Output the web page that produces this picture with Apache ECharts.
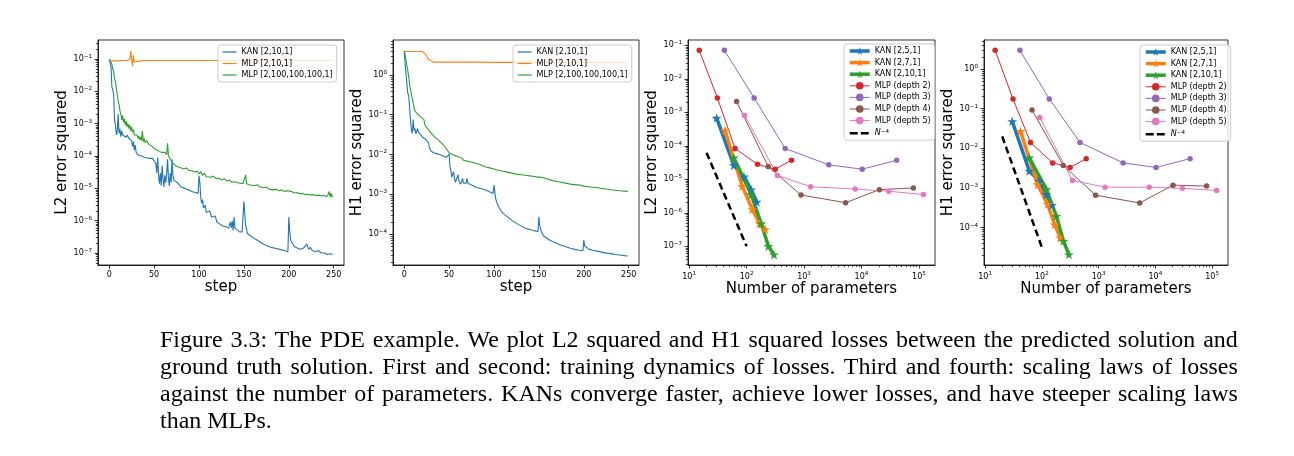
<!DOCTYPE html>
<html><head><meta charset="utf-8">
<script src="https://cdn.jsdelivr.net/npm/echarts@6/dist/echarts.min.js"></script>
<style>
html,body{margin:0;padding:0;background:#fff;}
#chart{position:absolute;left:0;top:0;width:1294px;height:456px;}
#caption{position:absolute;left:160px;top:326px;width:1012px;font-family:'Liberation Serif','Times New Roman',serif;font-size:22.5px;line-height:27px;color:#000;transform:scaleX(1.065);transform-origin:0 0;}
#caption .j{text-align:justify;text-align-last:justify;white-space:nowrap;}
#caption .l{text-align:left;}
</style></head><body>
<div id="chart"></div>
<div id="caption">
<div class="j">Figure 3.3: The PDE example. We plot L2 squared and H1 squared losses between the predicted solution and</div>
<div class="j">ground truth solution. First and second: training dynamics of losses. Third and fourth: scaling laws of losses</div>
<div class="j">against the number of parameters. KANs converge faster, achieve lower losses, and have steeper scaling laws</div>
<div class="l">than MLPs.</div>
</div>
<script>
// ---------- training dynamics (step, loss) ----------
const l2KanTrain = [[0,0.1],[1,0.09],[2,0.06],[3,0.014],[4,0.011],[5,0.008],[6,1.2e-3],[7,9e-4],[8,4.5e-4],[9,6e-4],[10,2e-3],[11,5e-4],[12,7e-4],[13,4e-4],[14,6e-4],[15,4.5e-4],[17,5e-4],[19,3.8e-4],[20,4.5e-4],[22,3.5e-4],[24,4e-4],[25,3e-4],[26,2e-4],[27,2.8e-4],[28,1.5e-4],[29,2.2e-4],[30,1.3e-4],[32,1.1e-4],[34,1.2e-4],[36,1e-4],[38,1.05e-4],[40,9e-5],[42,9.5e-5],[44,8.5e-5],[46,8e-5],[48,8.5e-5],[50,7.5e-5],[52,6e-5],[53,3e-5],[54,9e-5],[55,2.5e-5],[56,1.4e-5],[57,3e-5],[58,1.2e-5],[59,5e-5],[60,2e-5],[61,1.1e-5],[62,2.5e-5],[63,1.5e-5],[64,3e-5],[65,8e-5],[66,2e-5],[67,1.2e-5],[68,3e-5],[69,1.5e-5],[70,8e-5],[71,2.5e-5],[72,1.8e-5],[74,1.6e-5],[76,1.5e-5],[78,1.3e-5],[80,1.1e-5],[84,1e-5],[88,9e-6],[92,8e-6],[96,7.5e-6],[99,7e-6],[100,2.5e-5],[101,1.5e-5],[102,5e-6],[103,3.5e-6],[104,4.5e-6],[105,2.5e-6],[107,3e-6],[108,1.8e-6],[110,1.6e-6],[112,2e-6],[114,1.3e-6],[116,1.2e-6],[118,1.4e-6],[120,9e-7],[123,8e-7],[126,7e-7],[130,6.5e-7],[133,6e-7],[135,9e-7],[136,6e-7],[137,1e-6],[138,5e-7],[139,1.3e-6],[140,6e-7],[142,5.5e-7],[145,4.5e-7],[148,4.5e-7],[150,4e-6],[151,1.5e-6],[152,7e-7],[154,4e-7],[157,3.5e-7],[160,3e-7],[165,2.5e-7],[170,2e-7],[175,1.7e-7],[180,1.5e-7],[185,1.4e-7],[190,1.3e-7],[195,1.2e-7],[199,1.1e-7],[200,1.3e-6],[201,5e-7],[202,2.5e-7],[204,2e-7],[206,1.6e-7],[208,1.5e-7],[210,1.4e-7],[213,1.3e-7],[216,1.4e-7],[218,1.6e-7],[220,1.9e-7],[222,1.3e-7],[224,1.5e-7],[226,1.2e-7],[228,1.3e-7],[230,1.1e-7],[233,1.2e-7],[236,1e-7],[240,1e-7],[243,9e-8],[246,9.5e-8],[249,9e-8]];
const l2MlpSmallTrain = [[0,0.085],[5,0.088],[10,0.088],[15,0.09],[20,0.09],[22,0.092],[23,0.1],[24,0.18],[25,0.1],[26,0.06],[27,0.13],[28,0.08],[29,0.07],[30,0.08],[32,0.086],[35,0.088],[40,0.09],[60,0.09],[100,0.09],[150,0.09],[200,0.09],[249,0.09]];
const l2MlpBigTrain = [[0,0.1],[1,0.095],[2,0.1],[3,0.07],[4,0.05],[5,0.04],[6,0.025],[7,0.02],[8,0.012],[9,0.008],[10,0.005],[11,0.004],[12,0.0025],[13,2e-3],[14,1.3e-3],[15,1.8e-3],[16,1.1e-3],[17,1.4e-3],[18,9e-4],[19,1.2e-3],[20,8e-4],[21,1e-3],[22,7e-4],[23,9e-4],[24,6e-4],[25,8e-4],[26,5.5e-4],[27,6.5e-4],[28,4.5e-4],[29,5e-4],[30,4e-4],[31,4.5e-4],[32,3.5e-4],[33,4.2e-4],[34,3.2e-4],[35,3.8e-4],[36,3e-4],[37,6e-4],[38,2.8e-4],[39,3.5e-4],[40,2.6e-4],[42,3e-4],[44,2.3e-4],[46,2.6e-4],[48,2e-4],[50,1.7e-4],[52,1.9e-4],[54,1.5e-4],[56,1.6e-4],[58,1.3e-4],[60,1.2e-4],[62,1.3e-4],[64,1.1e-4],[65,2.5e-4],[66,1e-4],[68,9e-5],[70,6.5e-5],[72,6e-5],[74,5e-5],[76,5.5e-5],[78,4.5e-5],[80,4.8e-5],[83,4e-5],[86,4.3e-5],[89,3.6e-5],[92,3.5e-5],[95,3.2e-5],[98,3.4e-5],[100,2.8e-5],[102,3.3e-5],[104,2.5e-5],[106,3e-5],[108,2.3e-5],[110,2.6e-5],[113,2.2e-5],[116,2.4e-5],[119,2e-5],[122,2.1e-5],[125,1.8e-5],[128,2e-5],[131,1.7e-5],[134,1.8e-5],[137,1.55e-5],[140,1.6e-5],[143,1.5e-5],[146,1.45e-5],[149,1.4e-5],[151,1.35e-5],[152,2.6e-5],[153,1.4e-5],[156,1.3e-5],[159,1.25e-5],[162,1.2e-5],[165,1.3e-5],[168,1.1e-5],[170,1.2e-5],[172,1.05e-5],[175,1.1e-5],[178,9.5e-6],[180,1.05e-5],[183,9e-6],[186,9.5e-6],[189,8.5e-6],[192,9e-6],[195,8e-6],[198,8.5e-6],[200,7.6e-6],[203,8e-6],[206,7.2e-6],[209,7.5e-6],[212,6.8e-6],[215,7e-6],[218,6.5e-6],[221,6.6e-6],[224,6.2e-6],[227,6.4e-6],[230,6e-6],[233,6.2e-6],[236,5.9e-6],[239,6e-6],[242,5.6e-6],[244,6.5e-6],[245,8e-6],[246,5.5e-6],[247,7e-6],[248,5.4e-6],[249,6e-6]];

const h1KanTrain = [[0,3.9],[1,2.0],[2,1.1],[3,0.6],[4,0.35],[5,0.3],[6,0.16],[7,0.074],[8,0.042],[9,0.034],[10,0.076],[11,0.04],[12,0.045],[13,0.033],[14,0.035],[15,0.045],[16,0.036],[17,0.035],[18,0.032],[20,0.028],[22,0.026],[24,0.024],[26,0.022],[27,0.02],[28,0.015],[30,0.012],[33,0.011],[36,0.0105],[40,0.0098],[44,0.009],[47,0.0085],[49,0.008],[50,0.0103],[51,0.005],[52,0.004],[53,0.0027],[54,0.0025],[55,0.0037],[56,0.0025],[57,0.002],[58,0.0019],[59,0.0022],[60,0.0031],[61,0.0021],[62,0.0019],[63,0.0018],[64,0.0019],[65,0.0025],[66,0.0019],[67,0.0018],[68,0.0019],[69,0.0019],[70,0.0025],[71,0.0019],[72,0.0018],[75,0.0017],[80,0.0015],[85,0.0014],[90,0.0013],[95,0.00115],[99,0.00105],[100,0.0017],[101,0.0011],[102,7.5e-4],[104,5.5e-4],[106,4.5e-4],[108,3.8e-4],[110,3.3e-4],[115,2.7e-4],[120,2.2e-4],[125,1.85e-4],[130,1.6e-4],[135,1.4e-4],[140,1.3e-4],[145,1.2e-4],[149,1.15e-4],[150,2.7e-4],[151,1.6e-4],[153,1.1e-4],[155,9e-5],[160,7.5e-5],[165,6.5e-5],[170,5.8e-5],[175,5.2e-5],[180,4.8e-5],[185,4.4e-5],[190,4.1e-5],[195,3.9e-5],[199,3.8e-5],[200,7e-5],[201,5e-5],[203,4.5e-5],[206,4.1e-5],[210,3.9e-5],[215,3.7e-5],[220,3.5e-5],[225,3.3e-5],[230,3.2e-5],[235,3.05e-5],[240,2.95e-5],[245,2.85e-5],[249,2.8e-5]];
const h1MlpSmallTrain = [[0,3.9],[10,3.9],[20,3.9],[22,3.85],[24,3.3],[26,2.7],[28,2.4],[30,2.2],[33,2.1],[40,2.1],[60,2.12],[80,2.1],[100,2.08],[130,2.07],[160,2.06],[200,2.05],[249,2.04]];
const h1MlpBigTrain = [[0,4.1],[1,3.3],[2,2.4],[3,1.7],[4,1.3],[5,0.9],[6,0.6],[7,0.42],[8,0.33],[9,0.26],[10,0.2],[11,0.15],[12,0.125],[14,0.11],[16,0.1],[18,0.09],[20,0.082],[22,0.075],[23,0.056],[25,0.048],[28,0.04],[30,0.034],[33,0.029],[36,0.025],[40,0.021],[43,0.018],[46,0.015],[48,0.013],[50,0.011],[53,0.0102],[56,0.0095],[60,0.0088],[64,0.0082],[65,0.0085],[66,0.0072],[70,0.0068],[75,0.0064],[80,0.006],[85,0.0055],[90,0.0049],[95,0.0046],[100,0.0043],[105,0.004],[110,0.0038],[115,0.0036],[120,0.0034],[125,0.0032],[130,0.0031],[135,0.003],[140,0.0029],[145,0.0028],[150,0.0027],[155,0.0026],[158,0.0025],[160,0.0023],[165,0.0022],[170,0.0021],[175,0.002],[180,0.0019],[185,0.0018],[190,0.00175],[195,0.0017],[200,0.0016],[205,0.00155],[210,0.0015],[215,0.00145],[220,0.0014],[225,0.00135],[230,0.0013],[235,0.00126],[240,0.00122],[245,0.0012],[249,0.00118]];

// ---------- scaling laws ----------
const kan251Params = [30, 60, 90, 120, 150];
const kan271Params = [42, 84, 126, 168, 210];
const kan2101Params = [60, 120, 180, 240, 300];
const mlpD2Params = [15, 31, 63, 155, 315, 605];
const mlpD3Params = [41, 135, 470, 2700, 10300, 41000];
const mlpD4Params = [67, 238, 885, 5300, 20500, 80000];
const mlpD5Params = [92, 345, 1300, 7800, 30000, 120000];
const refParams = [20, 100];

const l2Kan251 = [6.8e-4, 2.6e-5, 1.2e-5, 4.9e-6, 2.1e-6];
const l2Kan271 = [2.9e-4, 6.2e-6, 1.26e-6, 4.8e-7, 3.2e-7];
const l2Kan2101 = [4.4e-5, 3.5e-6, 4.7e-7, 1e-7, 5.6e-8];
const l2MlpD2 = [0.071, 2.7e-3, 8.3e-5, 2.8e-5, 2e-5, 3.7e-5];
const l2MlpD3 = [0.071, 2.7e-3, 8.3e-5, 2.7e-5, 2e-5, 3.7e-5];
const l2MlpD4 = [2.1e-3, 2.4e-5, 3.4e-6, 2e-6, 4.9e-6, 5.5e-6];
const l2MlpD5 = [8.1e-4, 1.3e-5, 6e-6, 5.1e-6, 4.4e-6, 3.5e-6];
const l2Ref = [6.25e-5, 1e-7];

const h1Kan251 = [0.048, 2.7e-3, 1.5e-3, 6.9e-4, 3.7e-4];
const h1Kan271 = [0.027, 1.23e-3, 3.9e-4, 1.2e-4, 5.6e-5];
const h1Kan2101 = [5.8e-3, 9.2e-4, 1.96e-4, 4.6e-5, 2.1e-5];
const h1MlpD2 = [2.95, 0.176, 0.014, 4.3e-3, 3.3e-3, 5.5e-3];
const h1MlpD3 = [2.95, 0.176, 0.014, 4.3e-3, 3.3e-3, 5.5e-3];
const h1MlpD4 = [0.093, 3.7e-3, 6.6e-4, 4.2e-4, 1.18e-3, 1.12e-3];
const h1MlpD5 = [0.06, 1.55e-3, 1.05e-3, 1.05e-3, 9.8e-4, 8.7e-4];
const h1Ref = [2e-2, 3.2e-5];

const stepTicks = [0, 50, 100, 150, 200, 250];
const trainNames = ['KAN [2,10,1]', 'MLP [2,10,1]', 'MLP [2,100,100,100,1]'];
const scaleNames = ['KAN [2,5,1]', 'KAN [2,7,1]', 'KAN [2,10,1] ', 'MLP (depth 2)', 'MLP (depth 3)', 'MLP (depth 4)', 'MLP (depth 5)', 'N-4'];

// ---------- styling ----------
const C = {blue:'#1f77b4', orange:'#ff7f0e', green:'#2ca02c', red:'#d62728', purple:'#9467bd', brown:'#8c564b', pink:'#e377c2'};
const FONT = 'DejaVu Sans';
const STAR = 'path://M50,0L61.2,34.5L97.55,34.5L68.2,55.9L79.4,90.5L50,69.1L20.6,90.5L31.8,55.9L2.45,34.5L38.8,34.5Z';
const zip = (xs, ys) => xs.map((x, i) => [x, ys[i]]);

const grids = [
  {left: 98, top: 40, width: 246, height: 225},
  {left: 393, top: 40, width: 246, height: 225},
  {left: 688, top: 40, width: 247, height: 225},
  {left: 984, top: 40, width: 244, height: 225}
].map(g => Object.assign(g, {show: true, borderColor: '#000', borderWidth: 0.8, backgroundColor: 'transparent'}));

function powLabel(v) {
  const e = Math.round(Math.log10(v));
  return '{b|10}{e|' + (e < 0 ? '\u2212' + (-e) : String(e)) + '}';
}
const rich = {
  b: {fontSize: 8, fontFamily: FONT, color: '#000', lineHeight: 11},
  e: {fontSize: 5.6, fontFamily: FONT, color: '#000', verticalAlign: 'top', lineHeight: 11, padding: [0, 0, 4, 0]}
};
function majors(lo, hi) { const o = []; for (let e = lo; e <= hi; e++) o.push(Math.pow(10, e)); return o; }
function minors(lo, hi, minV, maxV) {
  const o = [];
  for (let e = lo; e <= hi; e++) for (let m = 2; m <= 9; m++) { const v = m * Math.pow(10, e); if (v > minV && v < maxV) o.push(v); }
  return o;
}
function logAxis(grid, lo, hi, eMin, eMax, isY, name, gap) {
  const minV = Math.pow(10, lo), maxV = Math.pow(10, hi);
  const vals = majors(eMin, eMax);
  const ax = {
    gridIndex: grid, type: 'log', logBase: 10, min: minV, max: maxV,
    axisLine: {show: true, onZero: false, lineStyle: {color: '#000', width: 0.8}},
    axisTick: {show: true, length: 3.5, customValues: vals, lineStyle: {color: '#000', width: 0.8}},
    axisLabel: {show: true, customValues: vals, formatter: powLabel, rich: rich, margin: 6, color: '#000'},
    splitLine: {show: false}, minorTick: {show: false},
    name: name, nameLocation: 'middle', nameGap: gap,
    nameTextStyle: {fontFamily: FONT, fontSize: 15, color: '#000'}
  };
  if (isY) { ax.position = 'left'; ax.nameRotate = 90; } else { ax.position = 'bottom'; }
  return ax;
}
function minorAxis(grid, lo, hi, eMin, eMax, isY) {
  const minV = Math.pow(10, lo), maxV = Math.pow(10, hi);
  return {
    gridIndex: grid, type: 'log', logBase: 10, min: minV, max: maxV,
    position: isY ? 'left' : 'bottom', offset: 0,
    axisLine: {show: false, onZero: false},
    axisTick: {show: true, length: 2.2, customValues: minors(eMin - 1, eMax, minV, maxV), lineStyle: {color: '#000', width: 0.7}},
    axisLabel: {show: false}, splitLine: {show: false}
  };
}
function stepAxis(grid) {
  return {
    gridIndex: grid, type: 'value', min: -12.45, max: 261.45,
    axisLine: {show: true, onZero: false, lineStyle: {color: '#000', width: 0.8}},
    axisTick: {show: true, length: 3.5, customValues: stepTicks, lineStyle: {color: '#000', width: 0.8}},
    axisLabel: {show: true, customValues: stepTicks, fontFamily: FONT, fontSize: 8, color: '#000', margin: 6},
    splitLine: {show: false},
    name: 'step', nameLocation: 'middle', nameGap: 13,
    nameTextStyle: {fontFamily: FONT, fontSize: 15, color: '#000'}
  };
}

const xAxes = [
  stepAxis(0), stepAxis(1),
  logAxis(2, 0.98, 5.28, 1, 5, false, 'Number of parameters', 11),
  logAxis(3, 0.98, 5.28, 1, 5, false, 'Number of parameters', 11),
  minorAxis(2, 0.98, 5.28, 1, 5, false),
  minorAxis(3, 0.98, 5.28, 1, 5, false)
];
const yAxes = [
  logAxis(0, -7.37, -0.41, -7, -1, true, 'L2 error squared', 26),
  logAxis(1, -4.78, 0.88, -4, 0, true, 'H1 error squared', 26),
  logAxis(2, -7.56, -0.84, -7, -1, true, 'L2 error squared', 27),
  logAxis(3, -4.94, 0.73, -4, 0, true, 'H1 error squared', 27),
  minorAxis(0, -7.37, -0.41, -7, -1, true),
  minorAxis(1, -4.78, 0.88, -4, 0, true),
  minorAxis(2, -7.56, -0.84, -7, -1, true),
  minorAxis(3, -4.94, 0.73, -4, 0, true)
];

function trainLine(name, data, color, axis) {
  return {type: 'line', name: name, data: data, xAxisIndex: axis, yAxisIndex: axis,
    symbol: 'none', showSymbol: false, lineStyle: {color: color, width: 1.1}, itemStyle: {color: color}};
}
function kanLine(name, xs, ys, color, axis) {
  return {type: 'line', name: name, data: zip(xs, ys), xAxisIndex: axis, yAxisIndex: axis,
    symbol: STAR, symbolSize: 10, symbolKeepAspect: true, showSymbol: true,
    lineStyle: {color: color, width: 3.5}, itemStyle: {color: color}};
}
function mlpLine(name, xs, ys, color, axis) {
  return {type: 'line', name: name, data: zip(xs, ys), xAxisIndex: axis, yAxisIndex: axis,
    symbol: 'circle', symbolSize: 5.5, showSymbol: true,
    lineStyle: {color: color, width: 1}, itemStyle: {color: color}};
}
function refLine(ys, axis) {
  return {type: 'line', name: 'N-4', data: zip(refParams, ys), xAxisIndex: axis, yAxisIndex: axis,
    symbol: 'none', showSymbol: false, lineStyle: {color: '#000', width: 2.5, type: [7, 4]}, itemStyle: {color: '#000'}};
}

const series = [
  trainLine(trainNames[0], l2KanTrain, C.blue, 0),
  trainLine(trainNames[1], l2MlpSmallTrain, C.orange, 0),
  trainLine(trainNames[2], l2MlpBigTrain, C.green, 0),
  trainLine(trainNames[0], h1KanTrain, C.blue, 1),
  trainLine(trainNames[1], h1MlpSmallTrain, C.orange, 1),
  trainLine(trainNames[2], h1MlpBigTrain, C.green, 1),

  kanLine(scaleNames[0], kan251Params, l2Kan251, C.blue, 2),
  kanLine(scaleNames[1], kan271Params, l2Kan271, C.orange, 2),
  kanLine(scaleNames[2], kan2101Params, l2Kan2101, C.green, 2),
  mlpLine(scaleNames[3], mlpD2Params, l2MlpD2, C.red, 2),
  mlpLine(scaleNames[4], mlpD3Params, l2MlpD3, C.purple, 2),
  mlpLine(scaleNames[5], mlpD4Params, l2MlpD4, C.brown, 2),
  mlpLine(scaleNames[6], mlpD5Params, l2MlpD5, C.pink, 2),
  refLine(l2Ref, 2),

  kanLine(scaleNames[0], kan251Params, h1Kan251, C.blue, 3),
  kanLine(scaleNames[1], kan271Params, h1Kan271, C.orange, 3),
  kanLine(scaleNames[2], kan2101Params, h1Kan2101, C.green, 3),
  mlpLine(scaleNames[3], mlpD2Params, h1MlpD2, C.red, 3),
  mlpLine(scaleNames[4], mlpD3Params, h1MlpD3, C.purple, 3),
  mlpLine(scaleNames[5], mlpD4Params, h1MlpD4, C.brown, 3),
  mlpLine(scaleNames[6], mlpD5Params, h1MlpD5, C.pink, 3),
  refLine(h1Ref, 3)
];

const legendBase = {
  orient: 'vertical', padding: [3, 4, 3, 4], backgroundColor: 'rgba(255,255,255,0.8)',
  borderColor: '#cccccc', borderWidth: 1, borderRadius: 3, selectedMode: false,
  textStyle: {fontFamily: FONT, fontSize: 8, color: '#000',
    rich: {i: {fontFamily: FONT, fontSize: 8, fontStyle: 'italic', color: '#000'},
           s: {fontFamily: FONT, fontSize: 5.6, color: '#000', verticalAlign: 'top', padding: [0, 0, 4, 0]}}},
  formatter: function (n) { return n === 'N-4' ? '{i|N}{s|\u22124}' : n; }
};
const trainLegendData = trainNames.map(n => ({name: n, itemStyle: {opacity: 0}, lineStyle: {width: 1.2}}));
const scaleLegendData = scaleNames.map((n, i) => {
  if (i < 3) return {name: n, lineStyle: {width: 3.5}};
  if (n === 'N-4') return {name: n, itemStyle: {opacity: 0}, lineStyle: {width: 2.5, type: [8, 3]}};
  return {name: n, lineStyle: {width: 1}};
});
const legends = [
  Object.assign({}, legendBase, {left: 218, top: 45, data: trainLegendData, itemWidth: 14, itemHeight: 8, itemGap: 3.5}),
  Object.assign({}, legendBase, {left: 513, top: 45, data: trainLegendData, itemWidth: 14, itemHeight: 8, itemGap: 3.5}),
  Object.assign({}, legendBase, {left: 844, top: 44, data: scaleLegendData, itemWidth: 20, itemHeight: 9.5, itemGap: 3.6}),
  Object.assign({}, legendBase, {left: 1140, top: 45, data: scaleLegendData, itemWidth: 20, itemHeight: 9.5, itemGap: 3.6})
];

const chart = echarts.init(document.getElementById('chart'), null, {renderer: 'canvas'});
chart.setOption({
  animation: false,
  backgroundColor: '#fff',
  grid: grids,
  xAxis: xAxes,
  yAxis: yAxes,
  legend: legends,
  series: series
});
</script>
</body></html>
